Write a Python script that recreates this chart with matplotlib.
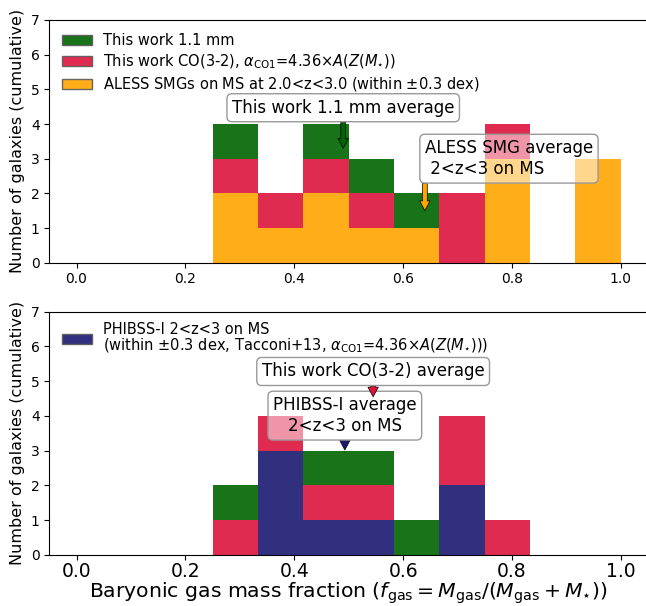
import numpy as np
import matplotlib
matplotlib.use('Agg')
import matplotlib.pyplot as plt

# 12 bins of f_gas between 0 and 1
bin_edges = np.linspace(0, 1, 13)

# counts per bin
mm11_counts = [0, 0, 0, 1, 0, 1, 1, 1, 0, 0, 0, 0]     # This work 1.1 mm
co32_counts = [0, 0, 0, 1, 1, 1, 1, 0, 2, 1, 0, 0]     # This work CO(3-2)
aless_counts = [0, 0, 0, 2, 1, 2, 1, 1, 0, 3, 0, 3]    # ALESS SMGs
phibss_counts = [0, 0, 0, 0, 3, 1, 1, 0, 2, 0, 0, 0]   # PHIBSS-I

# averages marked with arrows (x, y of arrow tip)
mm11_avg = (0.49, 3.3)
aless_avg = (0.64, 1.5)
co32_avg = (0.545, 4.55)
phibss_avg = (0.493, 3.02)

c_green = 'darkgreen'
c_red = 'crimson'
c_orange = 'orange'
c_navy = 'midnightblue'

lab_mm = 'This work 1.1 mm'
lab_co = r'This work CO(3-2), $\alpha_{\rm CO1}$=4.36$\times A(Z(M_{\star}))$'
lab_aless = r'ALESS SMGs on MS at 2.0<z<3.0 (within $\pm$0.3 dex)'
lab_phibss = ('PHIBSS-I 2<z<3 on MS\n'
              r'(within $\pm$0.3 dex, Tacconi+13, $\alpha_{\rm CO1}$=4.36$\times A(Z(M_{\star}))$)')

left = bin_edges[:-1]
width = np.diff(bin_edges)


def stack(ax, base, base_color, base_label):
    base = np.array(base)
    red = np.array(co32_counts)
    green = np.array(mm11_counts)
    h1 = ax.bar(left, base, width=width, align='edge', color=base_color,
                alpha=0.9, label=base_label)
    h2 = ax.bar(left, red, width=width, bottom=base, align='edge',
                color=c_red, alpha=0.9, label=lab_co)
    h3 = ax.bar(left, green, width=width, bottom=base + red, align='edge',
                color=c_green, alpha=0.9, label=lab_mm)
    return h1, h2, h3


def arrow_note(ax, text, xy, xytext, color, ha='center', ma='center', z=5):
    ax.annotate(text, xy=xy, xytext=xytext, ha=ha, va='center',
                multialignment=ma, fontsize=12, zorder=z,
                bbox=dict(boxstyle='round,pad=0.3', fc=(1, 1, 1, 0.5), ec='0.6'),
                arrowprops=dict(facecolor=color, edgecolor='k', width=3.5,
                                headwidth=7.5, headlength=7, shrink=0, lw=0.5))


def edge_handles(leg):
    for h in leg.legend_handles:
        h.set_edgecolor('0.35')
        h.set_linewidth(1)


fig = plt.figure(figsize=(6.46, 6.06), dpi=100)
ax1 = fig.add_axes([0.0763, 0.5665, 0.9268, 0.4005])
ax2 = fig.add_axes([0.0763, 0.0842, 0.9268, 0.4014])

# top panel
h1, h2, h3 = stack(ax1, aless_counts, c_orange, lab_aless)
leg1 = ax1.legend([h3, h2, h1], [lab_mm, lab_co, lab_aless], loc='upper left',
                  frameon=False, fontsize=10.5, labelspacing=0.3)
edge_handles(leg1)
arrow_note(ax1, 'This work 1.1 mm average', mm11_avg, (mm11_avg[0], 4.47), c_green)
arrow_note(ax1, 'ALESS SMG average\n 2<z<3 on MS', aless_avg, (aless_avg[0], 3.0),
           c_orange, ha='left', ma='left')

# bottom panel
g1, g2, g3 = stack(ax2, phibss_counts, c_navy, lab_phibss)
leg2 = ax2.legend([g1], [lab_phibss], loc='upper left', frameon=False,
                  fontsize=10.5, bbox_to_anchor=(0, 1.012))
edge_handles(leg2)
for t in leg2.get_texts():
    t.set_linespacing(0.95)
arrow_note(ax2, 'PHIBSS-I average\n2<z<3 on MS', phibss_avg, (phibss_avg[0], 4.01),
           c_navy)
# CO(3-2) arrow sits on top of the PHIBSS box
arrow_note(ax2, 'This work CO(3-2) average', co32_avg, (co32_avg[0], 5.28), c_red, z=6)

for ax in (ax1, ax2):
    ax.set_xlim(-0.05, 1.05)
    ax.set_ylim(0, 7)
    ax.set_ylabel('Number of galaxies (cumulative)', fontsize=11.5)
    ax.tick_params(axis='y', labelsize=10)
ax1.tick_params(axis='x', labelsize=10)
ax2.tick_params(axis='x', labelsize=13.5, pad=1.5)
ax2.set_xlabel(r'Baryonic gas mass fraction ($f_{\rm gas}=M_{\rm gas}/(M_{\rm gas}+M_{\star})$)',
               fontsize=14.7, labelpad=0)

fig.savefig('out.png', dpi=100)
